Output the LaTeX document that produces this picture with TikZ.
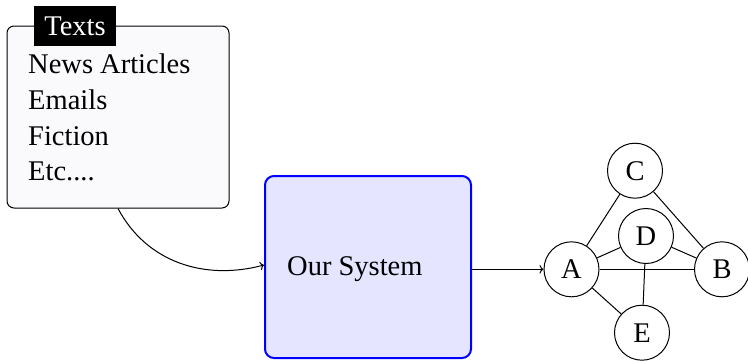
\documentclass[tikz,border=0pt]{standalone}
\usepackage{fontspec}
\setmainfont{Liberation Serif}
\usetikzlibrary{arrows.meta}
\definecolor{textsfill}{RGB}{250,250,253}
\begin{document}
\begin{tikzpicture}[x=1pt,y=-1pt,
  every node/.style={font=\fontsize{28.5}{34}\selectfont},
  vert/.style={draw, circle, line width=1pt, minimum size=55pt, inner sep=0pt},
  edge/.style={line width=1pt},
  conn/.style={line width=1pt, -{To[length=4pt,width=8.5pt]}},
  itemtext/.style={anchor=base west, inner sep=0pt}]
\useasboundingbox (0,0) rectangle (748,360);
% Texts box
\node[draw, line width=1pt, rounded corners=7pt, fill=textsfill,
      minimum width=222pt, minimum height=182pt, inner sep=0pt] (texts) at (118,117) {};
\node[fill=black, text=white, minimum width=82pt, minimum height=40pt, inner sep=0pt] (title) at (75,26) {Texts};
\node[itemtext] (t1) at (28,73) {News Articles};
\node[itemtext] (t2) at (28,109) {Emails};
\node[itemtext] (t3) at (28,145) {Fiction};
\node[itemtext] (t4) at (28,180) {Etc....};
% System
\node[draw=blue, line width=2pt, rounded corners=9pt, fill=blue!10,
      minimum width=206pt, minimum height=182pt, inner sep=0pt] (sys) at (368,267) {};
\node[itemtext] (syslabel) at (287,275) {Our System};
% Graph
\node[vert] (A) at (571.5,269.3) {A};
\node[vert] (B) at (722,269.3) {B};
\node[vert] (C) at (635,170.7) {C};
\node[vert] (D) at (646,236) {D};
\node[vert] (E) at (642,332.7) {E};
\draw[edge] (A) -- (C);
\draw[edge] (C) -- (B);
\draw[edge] (A) -- (D);
\draw[edge] (D) -- (B);
\draw[edge] (A) -- (B);
\draw[edge] (D) -- (E);
\draw[edge] (A) -- (E);
% Connectors
\draw[conn] (texts.south) to[out=-62,in=195] ([yshift=2pt]sys.west);
\draw[conn] (A -| sys.east) -- (A);
\end{tikzpicture}
\end{document}
